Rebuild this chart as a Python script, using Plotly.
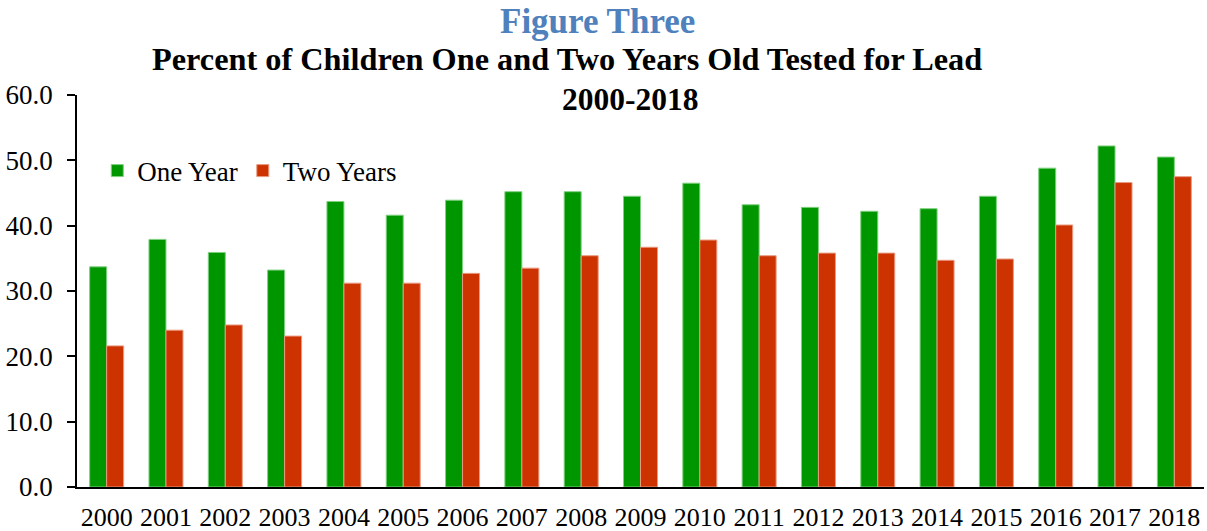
import plotly.graph_objects as go

years = [str(y) for y in range(2000, 2019)]
one_year = [33.7, 37.9, 35.9, 33.2, 43.7, 41.6, 43.9, 45.2, 45.2, 44.5,
            46.5, 43.2, 42.8, 42.2, 42.6, 44.5, 48.8, 52.2, 50.5]
two_years = [21.6, 24.0, 24.8, 23.1, 31.2, 31.2, 32.7, 33.5, 35.4, 36.7,
             37.8, 35.4, 35.8, 35.8, 34.7, 34.9, 40.1, 46.6, 47.5]
y_ticks = [0, 10, 20, 30, 40, 50, 60]

FONT = "Liberation Serif, Times New Roman, serif"

fig = go.Figure()
fig.add_trace(go.Bar(x=years, y=one_year, name="One Year",
                     marker=dict(color="#009600", line=dict(color="#7fd07f", width=1))))
fig.add_trace(go.Bar(x=years, y=two_years, name="Two Years",
                     marker=dict(color="#CC3300", line=dict(color="#e89a80", width=1))))

fig.update_layout(
    width=1207, height=531,
    margin=dict(l=77, r=3, t=95, b=44),
    paper_bgcolor="white", plot_bgcolor="white",
    barmode="group", bargap=0.427, bargroupgap=0,
    font=dict(family=FONT, size=26, color="black"),
    showlegend=True,
    legend=dict(orientation="h", x=0.018, y=0.806, xanchor="left", yanchor="middle",
                font=dict(family=FONT, size=27, color="black"),
                bgcolor="rgba(0,0,0,0)", itemwidth=30, traceorder="normal"),
    xaxis=dict(showline=True, linecolor="black", linewidth=2, ticks="",
               showgrid=False, tickfont=dict(family=FONT, size=26),
               ticklabelstandoff=6, automargin=False),
    yaxis=dict(range=[0, 60], tickvals=y_ticks, ticktext=[f"{v:.1f}" for v in y_ticks],
               showline=True, linecolor="black", linewidth=1.5,
               ticks="outside", ticklen=8, tickcolor="black", tickwidth=1.5,
               showgrid=False, zeroline=False, tickfont=dict(family=FONT, size=27),
               ticklabelstandoff=9, automargin=False),
    annotations=[
        dict(text="<b>Figure Three</b>", x=597, y=22, showarrow=False,
             font=dict(family=FONT, size=35, color="#4F81BD")),
        dict(text="<b>Percent of Children One and Two Years Old Tested for Lead</b>",
             x=567, y=59, showarrow=False, font=dict(family=FONT, size=32.3, color="black")),
        dict(text="<b>2000-2018</b>", x=630, y=99, showarrow=False,
             font=dict(family=FONT, size=31.5, color="black")),
    ],
)

# convert pixel positions of title annotations to paper coords
pw, ph = 1207 - 77 - 3, 531 - 95 - 44
for a in fig.layout.annotations:
    px, py = a.x, a.y
    a.xref = "paper"; a.yref = "paper"
    a.x = (px - 77) / pw
    a.y = (531 - 44 - py) / ph
    a.xanchor = "center"; a.yanchor = "middle"

fig.write_html("out.html", config={"displayModeBar": False},
               post_script="document.body.style.margin='0';")
